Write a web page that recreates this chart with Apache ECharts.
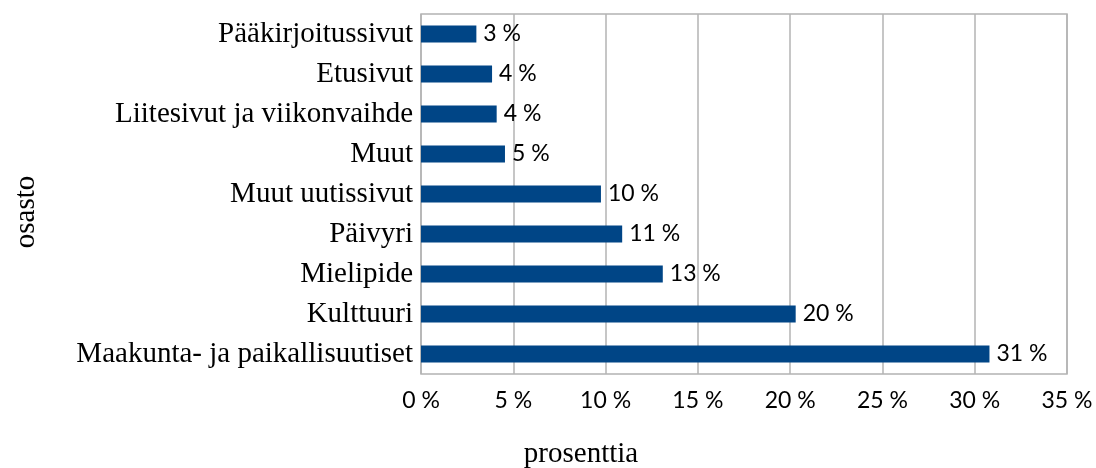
<!DOCTYPE html>
<html><head><meta charset="utf-8">
<script src="https://cdn.jsdelivr.net/npm/echarts@6/dist/echarts.min.js"></script>
<style>html,body{margin:0;padding:0;background:#fff}#c{width:1096px;height:468px}</style>
</head><body><div id="c"></div>
<script>
const categories = ["Pääkirjoitussivut","Etusivut","Liitesivut ja viikonvaihde","Muut","Muut uutissivut","Päivyri","Mielipide","Kulttuuri","Maakunta- ja paikallisuutiset"];
const values = [3.0, 3.85, 4.1, 4.55, 9.75, 10.9, 13.1, 20.3, 30.8];
const xTicks = [0,5,10,15,20,25,30,35];
const xName = "prosenttia";
const yName = "osasto";

const chart = echarts.init(document.getElementById('c'), null, {renderer:'canvas'});
chart.setOption({
  animation:false,
  backgroundColor:'#fff',
  grid:{left:421,right:29,top:14,bottom:94,show:true,borderColor:'#b3b3b3',borderWidth:1.5},
  xAxis:{type:'value',min:xTicks[0],max:xTicks[xTicks.length-1],interval:xTicks[1]-xTicks[0],
    axisLine:{show:false},axisTick:{show:false},
    splitLine:{show:true,lineStyle:{color:'#b3b3b3',width:1.5}},
    axisLabel:{margin:15,color:'#000',fontFamily:'Lato',fontSize:23,formatter:v=>v+' %'}},
  yAxis:{type:'category',data:categories,inverse:true,
    axisLine:{show:false},axisTick:{show:false},splitLine:{show:false},
    axisLabel:{margin:8,color:'#000',fontFamily:'Liberation Serif',fontSize:29}},
  series:[{type:'bar',data:values,barWidth:17,itemStyle:{color:'#004586'},
    label:{show:true,position:'right',distance:7,color:'#000',fontFamily:'Lato',fontSize:23,
      formatter:p=>Math.round(p.value)+' %'}}],
  graphic:[
    {type:'text',x:581,y:454,style:{text:xName,font:'29px "Liberation Serif"',fill:'#000',align:'center',verticalAlign:'middle'}},
    {type:'text',x:26,y:212,rotation:Math.PI/2,style:{text:yName,font:'29px "Liberation Serif"',fill:'#000',align:'center',verticalAlign:'middle'}}
  ]
});
</script></body></html>
